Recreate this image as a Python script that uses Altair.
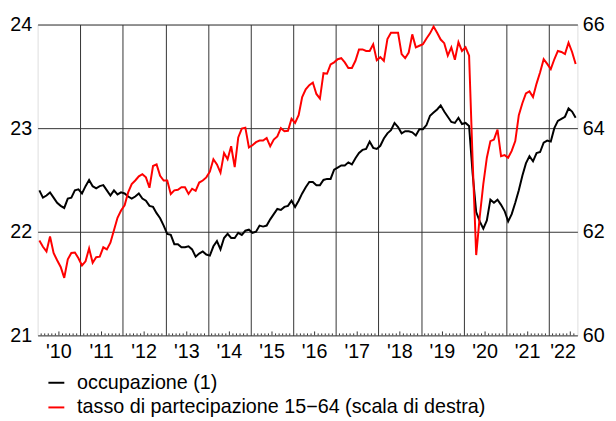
import altair as alt
import pandas as pd

# monthly data, Jan 2010 - Aug 2022
occupazione = [
    22.40, 22.33, 22.35, 22.38, 22.33, 22.28, 22.25, 22.23, 22.32, 22.33, 22.40, 22.41,
    22.37, 22.44, 22.50, 22.44, 22.42, 22.44, 22.45, 22.40, 22.35, 22.40, 22.36, 22.38,
    22.37, 22.34, 22.32, 22.34, 22.37, 22.32, 22.30, 22.25, 22.24, 22.18, 22.13, 22.06,
    21.98, 21.97, 21.88, 21.88, 21.85, 21.85, 21.86, 21.83, 21.76, 21.79, 21.81, 21.78,
    21.77, 21.86, 21.91, 21.83, 21.94, 21.98, 21.94, 21.94, 21.99, 21.97, 22.01, 22.02,
    21.99, 22.00, 22.06, 22.05, 22.06, 22.12, 22.17, 22.22, 22.21, 22.24, 22.25, 22.30,
    22.24, 22.30, 22.37, 22.43, 22.48, 22.48, 22.45, 22.45, 22.50, 22.51, 22.51, 22.60,
    22.62, 22.64, 22.64, 22.67, 22.65, 22.71, 22.76, 22.79, 22.80, 22.87, 22.81, 22.80,
    22.83, 22.90, 22.95, 22.98, 23.05, 23.01, 22.95, 22.97, 22.97, 22.96, 22.93, 22.99,
    22.99, 23.03, 23.12, 23.15, 23.18, 23.22, 23.16, 23.11, 23.06, 23.05, 23.10, 23.04,
    23.05, 23.02, 22.56, 22.19, 22.10, 22.03, 22.11, 22.31, 22.28, 22.31, 22.26, 22.20,
    22.10, 22.17, 22.28, 22.40, 22.54, 22.66, 22.73, 22.68, 22.76, 22.77, 22.86, 22.88,
    22.87, 23.00, 23.07, 23.09, 23.11, 23.19, 23.16, 23.10,
]
partecipazione = [
    61.83, 61.71, 61.62, 61.91, 61.59, 61.45, 61.32, 61.11, 61.47, 61.59, 61.60, 61.49,
    61.35, 61.43, 61.68, 61.40, 61.51, 61.52, 61.70, 61.66, 61.79, 62.03, 62.27, 62.41,
    62.51, 62.76, 62.92, 62.99, 63.07, 63.11, 63.05, 62.85, 63.27, 63.30, 63.08, 62.99,
    62.99, 62.73, 62.80, 62.81, 62.86, 62.86, 62.73, 62.83, 62.79, 62.95, 62.99, 63.05,
    63.16, 63.40, 63.30, 63.14, 63.52, 63.40, 63.65, 63.25, 63.82, 63.99, 64.01, 63.63,
    63.67, 63.73, 63.76, 63.76, 63.81, 63.65, 63.78, 63.84, 64.00, 63.94, 63.95, 64.18,
    64.10, 64.25, 64.60, 64.75, 64.83, 64.88, 64.66, 64.57, 65.06, 65.05, 65.23, 65.27,
    65.33, 65.35, 65.27, 65.16, 65.16, 65.30, 65.52, 65.52, 65.49, 65.49, 65.62, 65.31,
    65.37, 65.30, 65.72, 65.84, 65.84, 65.84, 65.43, 65.35, 65.46, 65.81, 65.56, 65.59,
    65.62, 65.73, 65.83, 65.96, 65.84, 65.71, 65.64, 65.40, 65.56, 65.32, 65.66, 65.49,
    65.56, 65.40, 63.37, 61.55, 62.29, 62.92, 63.43, 63.75, 63.78, 63.97, 63.46, 63.48,
    63.43, 63.56, 63.75, 64.25, 64.48, 64.67, 64.71, 64.60, 64.86, 65.08, 65.33, 65.24,
    65.14, 65.33, 65.49, 65.47, 65.43, 65.65, 65.47, 65.24,
]
serie = ["occupazione (1)", "tasso di partecipazione 15\u221264 (scala di destra)"]
colori = ["#000000", "#ff0000"]
anni = list(range(2010, 2023))
etichette_anni = ["'" + str(a)[2:] for a in anni]

START = 2010
n = len(occupazione)
t = [START + (i + 0.5) / 12 for i in range(n)]
x_end = START + n / 12

df_occ = pd.DataFrame({"t": t, "v": occupazione, "serie": serie[0]})
df_tas = pd.DataFrame({"t": t, "v": partecipazione, "serie": serie[1]})

# year-label positions: middle of each (possibly partial) year
lab_pos = [min(a + 0.5, (a + x_end) / 2) for a in anni]
df_lab = pd.DataFrame({"t": lab_pos, "lab": etichette_anni})

# minor ticks at month boundaries
month_k = [k for k in range(1, n) if k % 12 != 0]
df_m = pd.DataFrame({"t": [START + k / 12 for k in month_k if k % 12 != 6]})
df_h = pd.DataFrame({"t": [START + k / 12 for k in month_k if k % 12 == 6]})

W, H = 547, 315
FONT = "Liberation Sans"
FS = 20

xscale = alt.Scale(domain=[START, x_end], nice=False, zero=False)
xaxis = alt.Axis(values=anni[1:], grid=True, labels=False, ticks=False, domain=False,
                 title=None, gridColor="#333333", gridWidth=1, gridOpacity=1)
cscale = alt.Scale(domain=serie, range=colori)
legend = alt.Legend(title=None, orient="none", legendX=9, legendY=353, direction="vertical",
                    symbolType="stroke", symbolSize=260, symbolStrokeWidth=2,
                    labelFontSize=FS, labelFont=FONT, labelColor="#000000", labelLimit=0,
                    labelOffset=11, rowPadding=5, padding=0)

occ_line = alt.Chart(df_occ).mark_line(strokeWidth=2).encode(
    x=alt.X("t:Q", scale=xscale, axis=xaxis),
    y=alt.Y("v:Q", scale=alt.Scale(domain=[21, 24], nice=False, zero=False),
            axis=alt.Axis(orient="left", values=[21, 22, 23, 24], title=None, grid=True,
                          gridColor="#333333", gridOpacity=1, ticks=False, domain=False,
                          labelFontSize=FS, labelFont=FONT, labelColor="#000000",
                          labelPadding=6, format="d")),
    color=alt.Color("serie:N", scale=cscale, legend=legend),
)
tas_line = alt.Chart(df_tas).mark_line(strokeWidth=2).encode(
    x=alt.X("t:Q", scale=xscale, axis=xaxis),
    y=alt.Y("v:Q", scale=alt.Scale(domain=[60, 66], nice=False, zero=False),
            axis=alt.Axis(orient="right", values=[60, 62, 64, 66], title=None, grid=False,
                          ticks=False, domain=False, labelFontSize=FS, labelFont=FONT,
                          labelColor="#000000", labelPadding=5, format="d")),
    color=alt.Color("serie:N", scale=cscale, legend=legend),
)
labels = alt.Chart(df_lab).mark_text(fontSize=FS, font=FONT, color="#000000",
                                     baseline="middle", align="center").encode(
    x=alt.X("t:Q", scale=xscale, axis=xaxis),
    y=alt.value(H + 17),
    text="lab:N",
)
ticks_m = alt.Chart(df_m).mark_rule(color="#333333", strokeWidth=1).encode(
    x=alt.X("t:Q", scale=xscale, axis=xaxis),
    y=alt.value(H),
    y2=alt.value(H - 2),
)
ticks_h = alt.Chart(df_h).mark_rule(color="#333333", strokeWidth=1).encode(
    x=alt.X("t:Q", scale=xscale, axis=xaxis),
    y=alt.value(H),
    y2=alt.value(H - 4),
)

chart = alt.layer(occ_line, tas_line, ticks_m, ticks_h, labels).resolve_scale(
    y="independent"
).properties(
    width=W, height=H,
    autosize=alt.AutoSizeParams(type="none"),
    padding={"left": 30, "top": 14, "right": 31, "bottom": 84},
).configure_view(stroke="#000000", strokeWidth=1).configure(background="white")

chart.save("out.html", embed_options={"renderer": "svg", "actions": False})
